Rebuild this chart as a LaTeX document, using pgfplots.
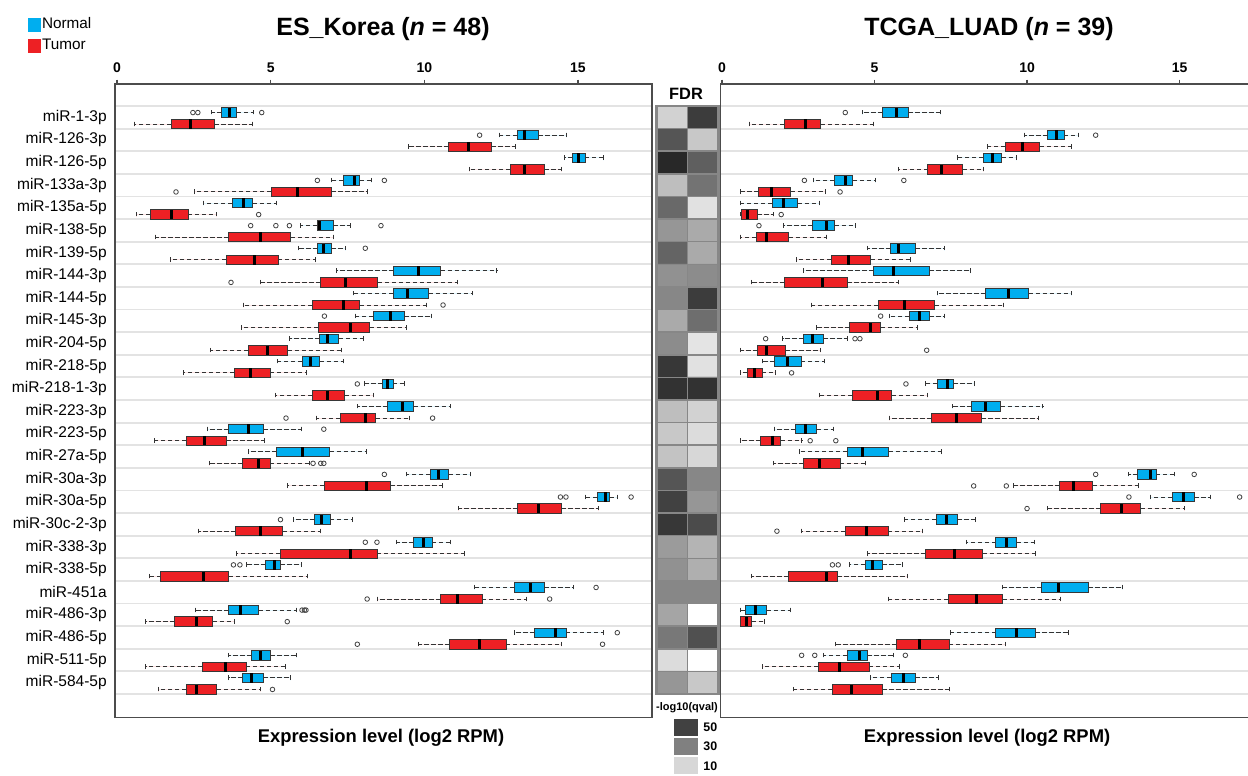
\documentclass[border=0pt]{standalone}
\usepackage{fontspec}
\setmainfont{Liberation Sans}
\usepackage{pgfplots}
\usepackage{pgfplotstable}
\pgfplotsset{compat=1.18}
\usepgfplotslibrary{statistics}

\definecolor{normcol}{RGB}{0,174,239}
\definecolor{tumcol}{RGB}{237,32,36}
\definecolor{edgecol}{RGB}{55,55,55}
\definecolor{fdredge}{RGB}{135,135,135}
\definecolor{g50}{gray}{0.255}
\definecolor{g30}{gray}{0.502}
\definecolor{g10}{gray}{0.843}

\pgfplotsset{
 nb/.style={draw=edgecol, fill=normcol, line width=0.45pt, mark=o, mark size=1.15pt,
   mark options={solid, draw=black!75, fill=none, line width=0.4pt}},
 tb/.style={draw=edgecol, fill=tumcol, line width=0.45pt, mark=o, mark size=1.15pt,
   mark options={solid, draw=black!75, fill=none, line width=0.4pt}},
 bpanel/.style={scale only axis, height=316.75pt,
   ymin=-0.473, ymax=27.54, y dir=reverse,
   ytick={1,...,26}, minor ytick={0.5,1.5,...,26.5},
   yminorgrids=true, minor grid style={gray!22, line width=0.9pt},
   minor tick length=0pt, ytick style={draw=none},
   xtick={0,5,10,15}, xtick pos=upper, xticklabel pos=upper,
   tick align=outside, major tick length=2.2pt,
   xtick style={black!70, line width=0.6pt},
   axis line style={black!70, line width=0.7pt},
   /pgf/number format/assume math mode=true,
   xticklabel style={font=\bfseries\fontsize{7}{8}\selectfont},
   boxplot/draw direction=x, boxplot/box extend=0.42, boxplot/whisker extend=0.22,
   boxplot/every median/.style={draw=black, line width=1.5pt},
   boxplot/every whisker/.style={draw=black!80, dash pattern=on 2.2pt off 1.3pt, line width=0.5pt}},
}

\newcommand\NB[7]{\addplot[nb, boxplot prepared={draw position=#1-0.21, lower whisker=#2, lower quartile=#3, median=#4, upper quartile=#5, upper whisker=#6}] coordinates {#7};}
\newcommand\TB[7]{\addplot[tb, boxplot prepared={draw position=#1+0.30, lower whisker=#2, lower quartile=#3, median=#4, upper quartile=#5, upper whisker=#6}] coordinates {#7};}

\pgfplotstableread{
x y q
1 1 11.1
2 1 51.6
1 2 43.7
2 2 13.4
1 3 57.9
2 3 40.5
1 4 15.7
2 4 34.1
1 5 37.3
2 5 7.5
1 6 24.9
2 6 20.3
1 7 38.9
2 7 20.3
1 8 26.1
2 8 27.2
1 9 28.4
2 9 51.6
1 10 20.3
2 10 35.7
1 11 27.2
2 11 6.75
1 12 53.2
2 12 7.5
1 13 54.8
2 13 54.8
1 14 15.7
2 14 11.1
1 15 13.4
2 15 8.75
1 16 14.6
2 16 10.0
1 17 43.7
2 17 28.4
1 18 50.0
2 18 24.9
1 19 53.2
2 19 46.8
1 20 23.8
2 20 18.0
1 21 26.1
2 21 19.2
1 22 28.4
2 22 28.4
1 23 21.5
2 23 0
1 24 32.5
2 24 45.2
1 25 8.75
2 25 0
1 26 24.9
2 26 13.4
}\fdrtab

\begin{document}
\begin{tikzpicture}
\useasboundingbox (0,0) rectangle (624pt,-388pt);

% ---------------- ES_Korea ----------------
\begin{axis}[bpanel, at={(57.5pt,-42pt)}, anchor=north west, width=268.5pt,
  xmin=-0.065, xmax=17.41,
  yticklabels={miR-1-3p,miR-126-3p,miR-126-5p,miR-133a-3p,miR-135a-5p,miR-138-5p,miR-139-5p,miR-144-3p,miR-144-5p,miR-145-3p,miR-204-5p,miR-218-5p,miR-218-1-3p,miR-223-3p,miR-223-5p,miR-27a-5p,miR-30a-3p,miR-30a-5p,miR-30c-2-3p,miR-338-3p,miR-338-5p,miR-451a,miR-486-3p,miR-486-5p,miR-511-5p,miR-584-5p},
  yticklabel style={font=\fontsize{7.75}{9}\selectfont, inner sep=0pt, xshift=-1.75pt},
  legend style={at={(-0.162,1.1065)}, anchor=north west, draw=none, fill=none,
    inner sep=0pt, outer sep=0pt, font=\fontsize{7.65}{8}\selectfont,
    row sep=2.5pt, nodes={inner sep=0.6pt}, legend cell align=left},
]
\addlegendimage{legend image code/.code={\fill[normcol] (0pt,-3.25pt) rectangle (6pt,3.25pt);}}
\addlegendentry{Normal}
\addlegendimage{legend image code/.code={\fill[tumcol] (0pt,-3.25pt) rectangle (6pt,3.25pt);}}
\addlegendentry{Tumor}

\NB{1}{3.08}{3.41}{3.66}{3.90}{4.45}{(0,2.47)(0,2.63)(0,4.71)}
\TB{1}{0.56}{1.77}{2.40}{3.17}{4.42}{}
\NB{2}{12.46}{13.03}{13.27}{13.71}{14.64}{(0,11.80)}
\TB{2}{9.50}{10.79}{11.43}{12.18}{12.97}{}
\NB{3}{14.57}{14.82}{15.02}{15.23}{15.84}{}
\TB{3}{11.46}{12.80}{13.27}{13.90}{14.47}{}
\NB{4}{6.97}{7.37}{7.72}{7.90}{8.29}{(0,6.52)(0,8.70)}
\TB{4}{2.52}{5.02}{5.88}{6.97}{8.16}{(0,1.92)}
\NB{5}{2.81}{3.75}{4.13}{4.42}{5.18}{}
\TB{5}{0.63}{1.09}{1.76}{2.31}{3.25}{(0,4.61)}
\NB{6}{5.98}{6.51}{6.59}{7.04}{7.61}{(0,4.35)(0,5.17)(0,5.61)(0,8.59)}
\TB{6}{1.26}{3.64}{4.68}{5.66}{7.03}{}
\NB{7}{5.91}{6.53}{6.71}{6.98}{7.42}{(0,8.08)}
\TB{7}{1.73}{3.56}{4.46}{5.24}{6.45}{}
\NB{8}{7.14}{9.00}{9.82}{10.53}{12.36}{}
\TB{8}{4.68}{6.63}{7.44}{8.49}{11.09}{(0,3.71)}
\NB{9}{7.68}{8.98}{9.45}{10.14}{11.57}{}
\TB{9}{4.13}{6.36}{7.38}{7.90}{10.07}{(0,10.61)}
\NB{10}{7.75}{8.34}{8.91}{9.35}{10.23}{(0,6.75)}
\TB{10}{4.04}{6.55}{7.59}{8.23}{9.43}{}
\NB{11}{5.61}{6.59}{6.86}{7.22}{8.02}{}
\TB{11}{3.04}{4.27}{4.90}{5.55}{7.31}{}
\NB{12}{5.23}{6.02}{6.29}{6.59}{7.38}{}
\TB{12}{2.18}{3.81}{4.35}{4.98}{6.18}{}
\NB{13}{8.06}{8.64}{8.80}{8.98}{9.36}{(0,7.82)}
\TB{13}{5.17}{6.36}{6.85}{7.41}{8.36}{}
\NB{14}{7.82}{8.81}{9.29}{9.65}{10.86}{}
\TB{14}{6.48}{7.26}{8.08}{8.42}{9.52}{(0,5.50)(0,10.27)}
\NB{15}{2.96}{3.63}{4.27}{4.76}{6.02}{(0,6.73)}
\TB{15}{1.21}{2.26}{2.85}{3.56}{4.79}{}
\NB{16}{4.27}{5.20}{6.04}{6.92}{8.12}{}
\TB{16}{3.00}{4.09}{4.60}{4.98}{6.25}{(0,6.38)(0,6.63)(0,6.73)}
\NB{17}{9.41}{10.20}{10.45}{10.79}{11.50}{(0,8.70)}
\TB{17}{5.54}{6.74}{8.12}{8.89}{10.59}{}
\NB{18}{15.23}{15.62}{15.91}{16.03}{16.28}{(0,14.43)(0,14.61)(0,16.73)}
\TB{18}{11.12}{13.04}{13.71}{14.46}{15.66}{}
\NB{19}{5.73}{6.44}{6.67}{6.93}{7.65}{(0,5.32)}
\TB{19}{2.66}{3.86}{4.68}{5.40}{6.62}{}
\NB{20}{9.10}{9.66}{9.96}{10.25}{10.86}{(0,8.08)(0,8.46)}
\TB{20}{3.89}{5.32}{7.59}{8.46}{11.30}{}
\NB{21}{4.23}{4.84}{5.12}{5.32}{5.99}{(0,3.79)(0,4.00)}
\TB{21}{1.06}{1.43}{2.82}{3.64}{6.21}{}
\NB{22}{11.64}{12.92}{13.44}{13.90}{14.87}{(0,15.59)}
\TB{22}{8.47}{10.53}{11.09}{11.88}{13.34}{(0,8.14)(0,14.08)}
\NB{23}{2.55}{3.63}{4.01}{4.61}{5.83}{(0,6.02)(0,6.10)(0,6.15)}
\TB{23}{0.93}{1.88}{2.58}{3.11}{3.83}{(0,5.54)}
\NB{24}{12.93}{13.59}{14.26}{14.61}{15.83}{(0,16.28)}
\TB{24}{9.82}{10.83}{11.79}{12.66}{14.46}{(0,7.82)(0,15.80)}
\NB{25}{3.63}{4.38}{4.68}{4.99}{5.84}{}
\TB{25}{0.93}{2.78}{3.52}{4.20}{5.47}{}
\NB{26}{3.63}{4.09}{4.37}{4.76}{5.63}{}
\TB{26}{1.36}{2.26}{2.58}{3.25}{4.68}{(0,5.06)}
\end{axis}

% ---------------- TCGA_LUAD ----------------
\begin{axis}[bpanel, at={(360.25pt,-42pt)}, anchor=north west, width=264.75pt,
  xmin=-0.05, xmax=17.31, yticklabel=\empty]
\NB{1}{4.60}{5.27}{5.73}{6.11}{7.16}{(0,4.04)}
\TB{1}{0.90}{2.03}{2.73}{3.24}{4.98}{}
\NB{2}{9.91}{10.68}{10.98}{11.21}{11.68}{(0,12.25)}
\TB{2}{8.71}{9.29}{9.86}{10.42}{11.46}{}
\NB{3}{7.73}{8.57}{8.88}{9.17}{9.67}{}
\TB{3}{5.80}{6.75}{7.21}{7.89}{8.57}{}
\NB{4}{2.99}{3.68}{4.06}{4.29}{5.04}{(0,2.70)(0,5.96)}
\TB{4}{0.62}{1.20}{1.62}{2.25}{3.38}{(0,3.87)}
\NB{5}{0.60}{1.64}{2.03}{2.48}{3.18}{}
\TB{5}{0.59}{0.65}{0.85}{1.16}{1.68}{(0,1.94)}
\NB{6}{2.03}{2.97}{3.43}{3.69}{4.36}{(0,1.21)}
\TB{6}{0.60}{1.12}{1.45}{2.18}{3.41}{}
\NB{7}{4.78}{5.53}{5.80}{6.34}{7.31}{}
\TB{7}{2.43}{3.58}{4.15}{4.88}{6.18}{}
\NB{8}{2.68}{4.97}{5.63}{6.79}{8.14}{}
\TB{8}{0.96}{2.06}{3.29}{4.11}{5.77}{}
\NB{9}{7.06}{8.65}{9.39}{10.05}{11.46}{}
\TB{9}{2.93}{5.12}{5.99}{6.97}{9.22}{}
\NB{10}{5.50}{6.14}{6.46}{6.79}{7.31}{(0,5.20)}
\TB{10}{3.11}{4.18}{4.88}{5.21}{6.41}{}
\NB{11}{1.99}{2.68}{2.96}{3.32}{4.10}{(0,1.43)(0,4.36)(0,4.52)}
\TB{11}{0.60}{1.17}{1.46}{2.08}{3.22}{(0,6.71)}
\NB{12}{1.32}{1.73}{2.13}{2.59}{3.35}{}
\TB{12}{0.59}{0.83}{1.07}{1.31}{1.76}{(0,2.28)}
\NB{13}{6.68}{7.06}{7.39}{7.58}{8.28}{(0,6.03)}
\TB{13}{3.20}{4.27}{5.10}{5.57}{6.74}{}
\NB{14}{7.55}{8.19}{8.64}{9.13}{10.51}{}
\TB{14}{5.50}{6.87}{7.69}{8.50}{10.38}{}
\NB{15}{1.73}{2.41}{2.74}{3.10}{3.67}{}
\TB{15}{0.60}{1.27}{1.66}{1.92}{2.61}{(0,2.89)(0,3.73)}
\NB{16}{2.55}{4.10}{4.60}{5.46}{7.21}{}
\TB{16}{1.68}{2.68}{3.20}{3.87}{4.70}{}
\NB{17}{13.31}{13.63}{14.05}{14.23}{14.82}{(0,12.25)(0,15.48)}
\TB{17}{9.54}{11.07}{11.52}{12.15}{13.66}{(0,8.25)(0,9.32)}
\NB{18}{14.04}{14.76}{15.13}{15.48}{16.01}{(0,13.34)(0,16.97)}
\TB{18}{10.66}{12.42}{13.10}{13.72}{15.17}{(0,10.00)}
\NB{19}{5.99}{7.02}{7.35}{7.71}{8.31}{}
\TB{19}{2.59}{4.04}{4.75}{5.44}{6.57}{(0,1.80)}
\NB{20}{8.03}{8.98}{9.31}{9.66}{10.23}{}
\TB{20}{4.78}{6.68}{7.61}{8.54}{10.29}{}
\NB{21}{4.17}{4.70}{4.93}{5.25}{5.91}{(0,3.62)(0,3.81)}
\TB{21}{0.96}{2.18}{3.41}{3.78}{6.09}{}
\NB{22}{9.21}{10.48}{11.02}{12.01}{13.12}{}
\TB{22}{5.46}{7.41}{8.34}{9.20}{11.11}{}
\NB{23}{0.59}{0.78}{1.11}{1.46}{2.25}{}
\TB{23}{0.59}{0.60}{0.80}{0.98}{1.39}{}
\NB{24}{7.50}{8.98}{9.67}{10.27}{11.36}{}
\TB{24}{3.72}{5.73}{6.48}{7.44}{9.29}{}
\NB{25}{3.34}{4.10}{4.51}{4.76}{5.63}{(0,2.61)(0,3.04)(0,6.01)}
\TB{25}{1.34}{3.16}{3.86}{4.82}{5.82}{}
\NB{26}{4.87}{5.54}{5.95}{6.33}{7.10}{}
\TB{26}{2.34}{3.61}{4.25}{5.25}{7.45}{}
\end{axis}

% ---------------- FDR heatmap ----------------
\begin{axis}[at={(328.25pt,-53pt)}, anchor=north west, width=31pt, height=294pt,
  scale only axis, xmin=0.5, xmax=2.5, ymin=0.5, ymax=26.5, y dir=reverse,
  xtick={1.5}, ytick={1.5,2.5,...,25.5}, xticklabel=\empty, yticklabel=\empty,
  major tick length=0pt, grid=major, grid style={draw=fdredge, line width=0.75pt},
  axis on top, axis line style={draw=fdredge, line width=1.2pt},
  colormap={fdr}{gray(0cm)=(1); gray(10cm)=(0.843); gray(30cm)=(0.502); gray(50cm)=(0.255); gray(60cm)=(0.13)},
  point meta min=0, point meta max=60]
\addplot[matrix plot*, mesh/cols=2, point meta=explicit]
  table[x=x, y=y, meta=q] {\fdrtab};
\end{axis}

% ---------------- FDR legend ----------------
\begin{axis}[at={(337pt,-358.75pt)}, anchor=north west, width=12pt, height=29pt,
  scale only axis, xmin=0, xmax=1, ymin=0.5, ymax=3.5, y dir=reverse,
  axis line style={draw=none}, xtick=\empty, ytick={1,2,3}, yticklabels={50,30,10},
  yticklabel pos=right, ytick style={draw=none},
  yticklabel style={font=\bfseries\fontsize{6.2}{7}\selectfont, inner sep=0pt, xshift=2.5pt}]
\addplot[xbar, bar width=8.5pt, fill=g50, draw=none] coordinates {(1,1)};
\addplot[xbar, bar width=8.5pt, fill=g30, draw=none] coordinates {(1,2)};
\addplot[xbar, bar width=8.5pt, fill=g10, draw=none] coordinates {(1,3)};
\end{axis}

% ---------------- texts ----------------
\node[font=\bfseries\fontsize{12.5}{14}\selectfont] at (191.5pt,-14.5pt) {ES\_Korea (\textit{n} = 48)};
\node[font=\bfseries\fontsize{12.5}{14}\selectfont] at (494.5pt,-14.5pt) {TCGA\_LUAD (\textit{n} = 39)};
\node[font=\bfseries\fontsize{9.2}{11}\selectfont] at (190.5pt,-369pt) {Expression level (log2 RPM)};
\node[font=\bfseries\fontsize{9.2}{11}\selectfont] at (493.5pt,-369pt) {Expression level (log2 RPM)};
\node[font=\bfseries\fontsize{8.2}{9}\selectfont] at (343pt,-47pt) {FDR};
\node[font=\bfseries\fontsize{5.5}{6}\selectfont] at (343.5pt,-354pt) {-log10(qval)};
\end{tikzpicture}
\end{document}
